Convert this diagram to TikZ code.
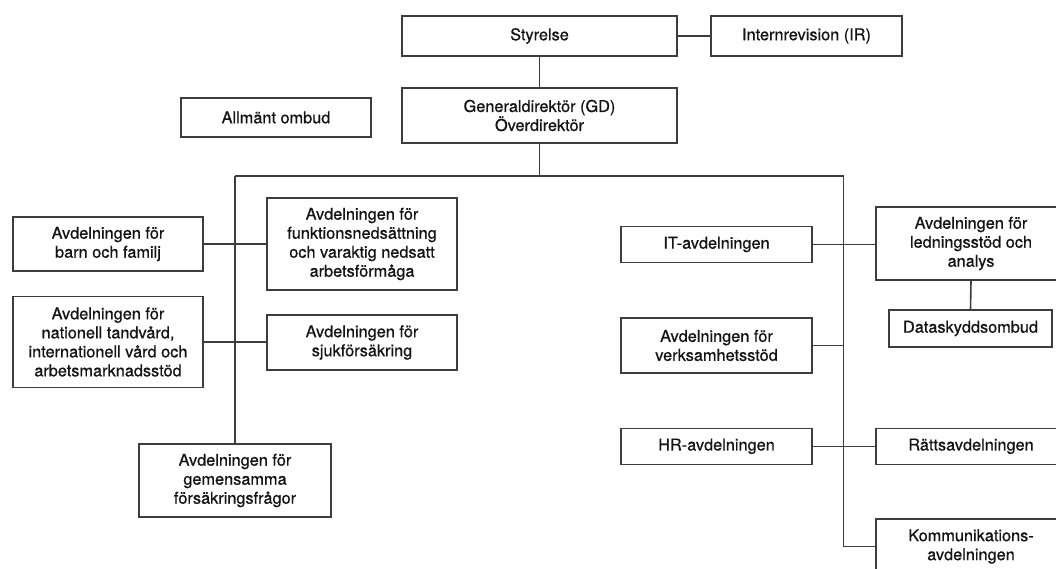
\documentclass[tikz,border=0pt]{standalone}
\usepackage{fontspec}
\setmainfont{TeX Gyre Heros}
\newfontfamily\medfont{TeX Gyre Heros}[FakeBold=0.7]
\definecolor{linec}{rgb}{0.24,0.24,0.24}
\definecolor{textc}{rgb}{0.08,0.08,0.08}
\tikzset{
  orgbox/.style={draw=linec, line width=1.6pt, fill=white, inner sep=0pt, align=center,
    text=textc, font=\medfont\fontsize{16.3}{19}\selectfont},
  conn/.style={draw=linec, line width=1.6pt}
}
\begin{document}
\begin{tikzpicture}[x=1pt,y=-1pt]
\path[use as bounding box] (0,0) rectangle (1056,568);
\clip (0,0) rectangle (1056,568);
\fill[white] (0,0) rectangle (1056,568);
% nodes
\node[orgbox, minimum width=275pt, minimum height=39.5pt] (sty) at (539.5,36) {Styrelse};
\node[orgbox, minimum width=191pt, minimum height=39.5pt] (ir) at (806.5,36) {Internrevision (IR)};
\node[orgbox, minimum width=275pt, minimum height=55pt] (gd) at (539.5,115.5) {Generaldirektör (GD)\\Överdirektör};
\node[orgbox, minimum width=190pt, minimum height=39pt] (allm) at (276,117.5) {Allmänt ombud};
\node[orgbox, minimum width=190pt, minimum height=54pt] (barn) at (108,244) {Avdelningen för\\barn och familj};
\node[orgbox, minimum width=190pt, minimum height=92pt] (funk) at (362,244) {Avdelningen för\\funktionsnedsättning\\och varaktig nedsatt\\arbetsförmåga};
\node[orgbox, minimum width=190pt, minimum height=91pt] (nat) at (108,342) {Avdelningen för\\nationell tandvård,\\internationell vård och\\arbetsmarknadsstöd};
\node[orgbox, minimum width=190pt, minimum height=55pt] (sjuk) at (362,342.5) {Avdelningen för\\sjukförsäkring};
\node[orgbox, minimum width=192pt, minimum height=73pt] (gem) at (235,480.5) {Avdelningen för\\gemensamma\\försäkringsfrågor};
\node[orgbox, minimum width=191pt, minimum height=36pt] (it) at (716.5,244.5) {IT-avdelningen};
\node[orgbox, minimum width=190pt, minimum height=73pt] (led) at (971,243.5) {Avdelningen för\\ledningsstöd och\\analys};
\node[orgbox, minimum width=163pt, minimum height=37pt] (data) at (970.5,328.5) {Dataskyddsombud};
\node[orgbox, minimum width=191pt, minimum height=55pt] (verk) at (716.5,345.5) {Avdelningen för\\verksamhetsstöd};
\node[orgbox, minimum width=191pt, minimum height=36pt] (hr) at (716.5,446.3) {HR-avdelningen};
\node[orgbox, minimum width=190pt, minimum height=36pt] (ratt) at (971,446.3) {Rättsavdelningen};
\node[orgbox, minimum width=190pt, minimum height=55pt] (komm) at (971,546.5) {Kommunikations-\\avdelningen};
% bus coordinates
\coordinate (busM) at (539.5,176);
\coordinate (busL) at (235,176);
\coordinate (busR) at (843.5,176);
% connectors
\draw[conn] (sty.east) -- (ir.west);
\draw[conn] (sty.south) -- (gd.north);
\draw[conn] (gd.south) -- (busM);
\draw[conn] (busL) -- (busR);
\draw[conn] (busL) -- (gem.north);
\draw[conn] (busR) |- (komm.west);
\draw[conn] (barn.east) -- (funk.west);
\draw[conn] (nat.east) -- (nat.east -| sjuk.west);
\draw[conn] (it.east) -- (it.east -| led.west);
\draw[conn] (verk.east) -- (verk.east -| busR);
\draw[conn] (hr.east) -- (ratt.west);
\draw[conn] (led.south) -- (data.north);
\end{tikzpicture}
\end{document}
